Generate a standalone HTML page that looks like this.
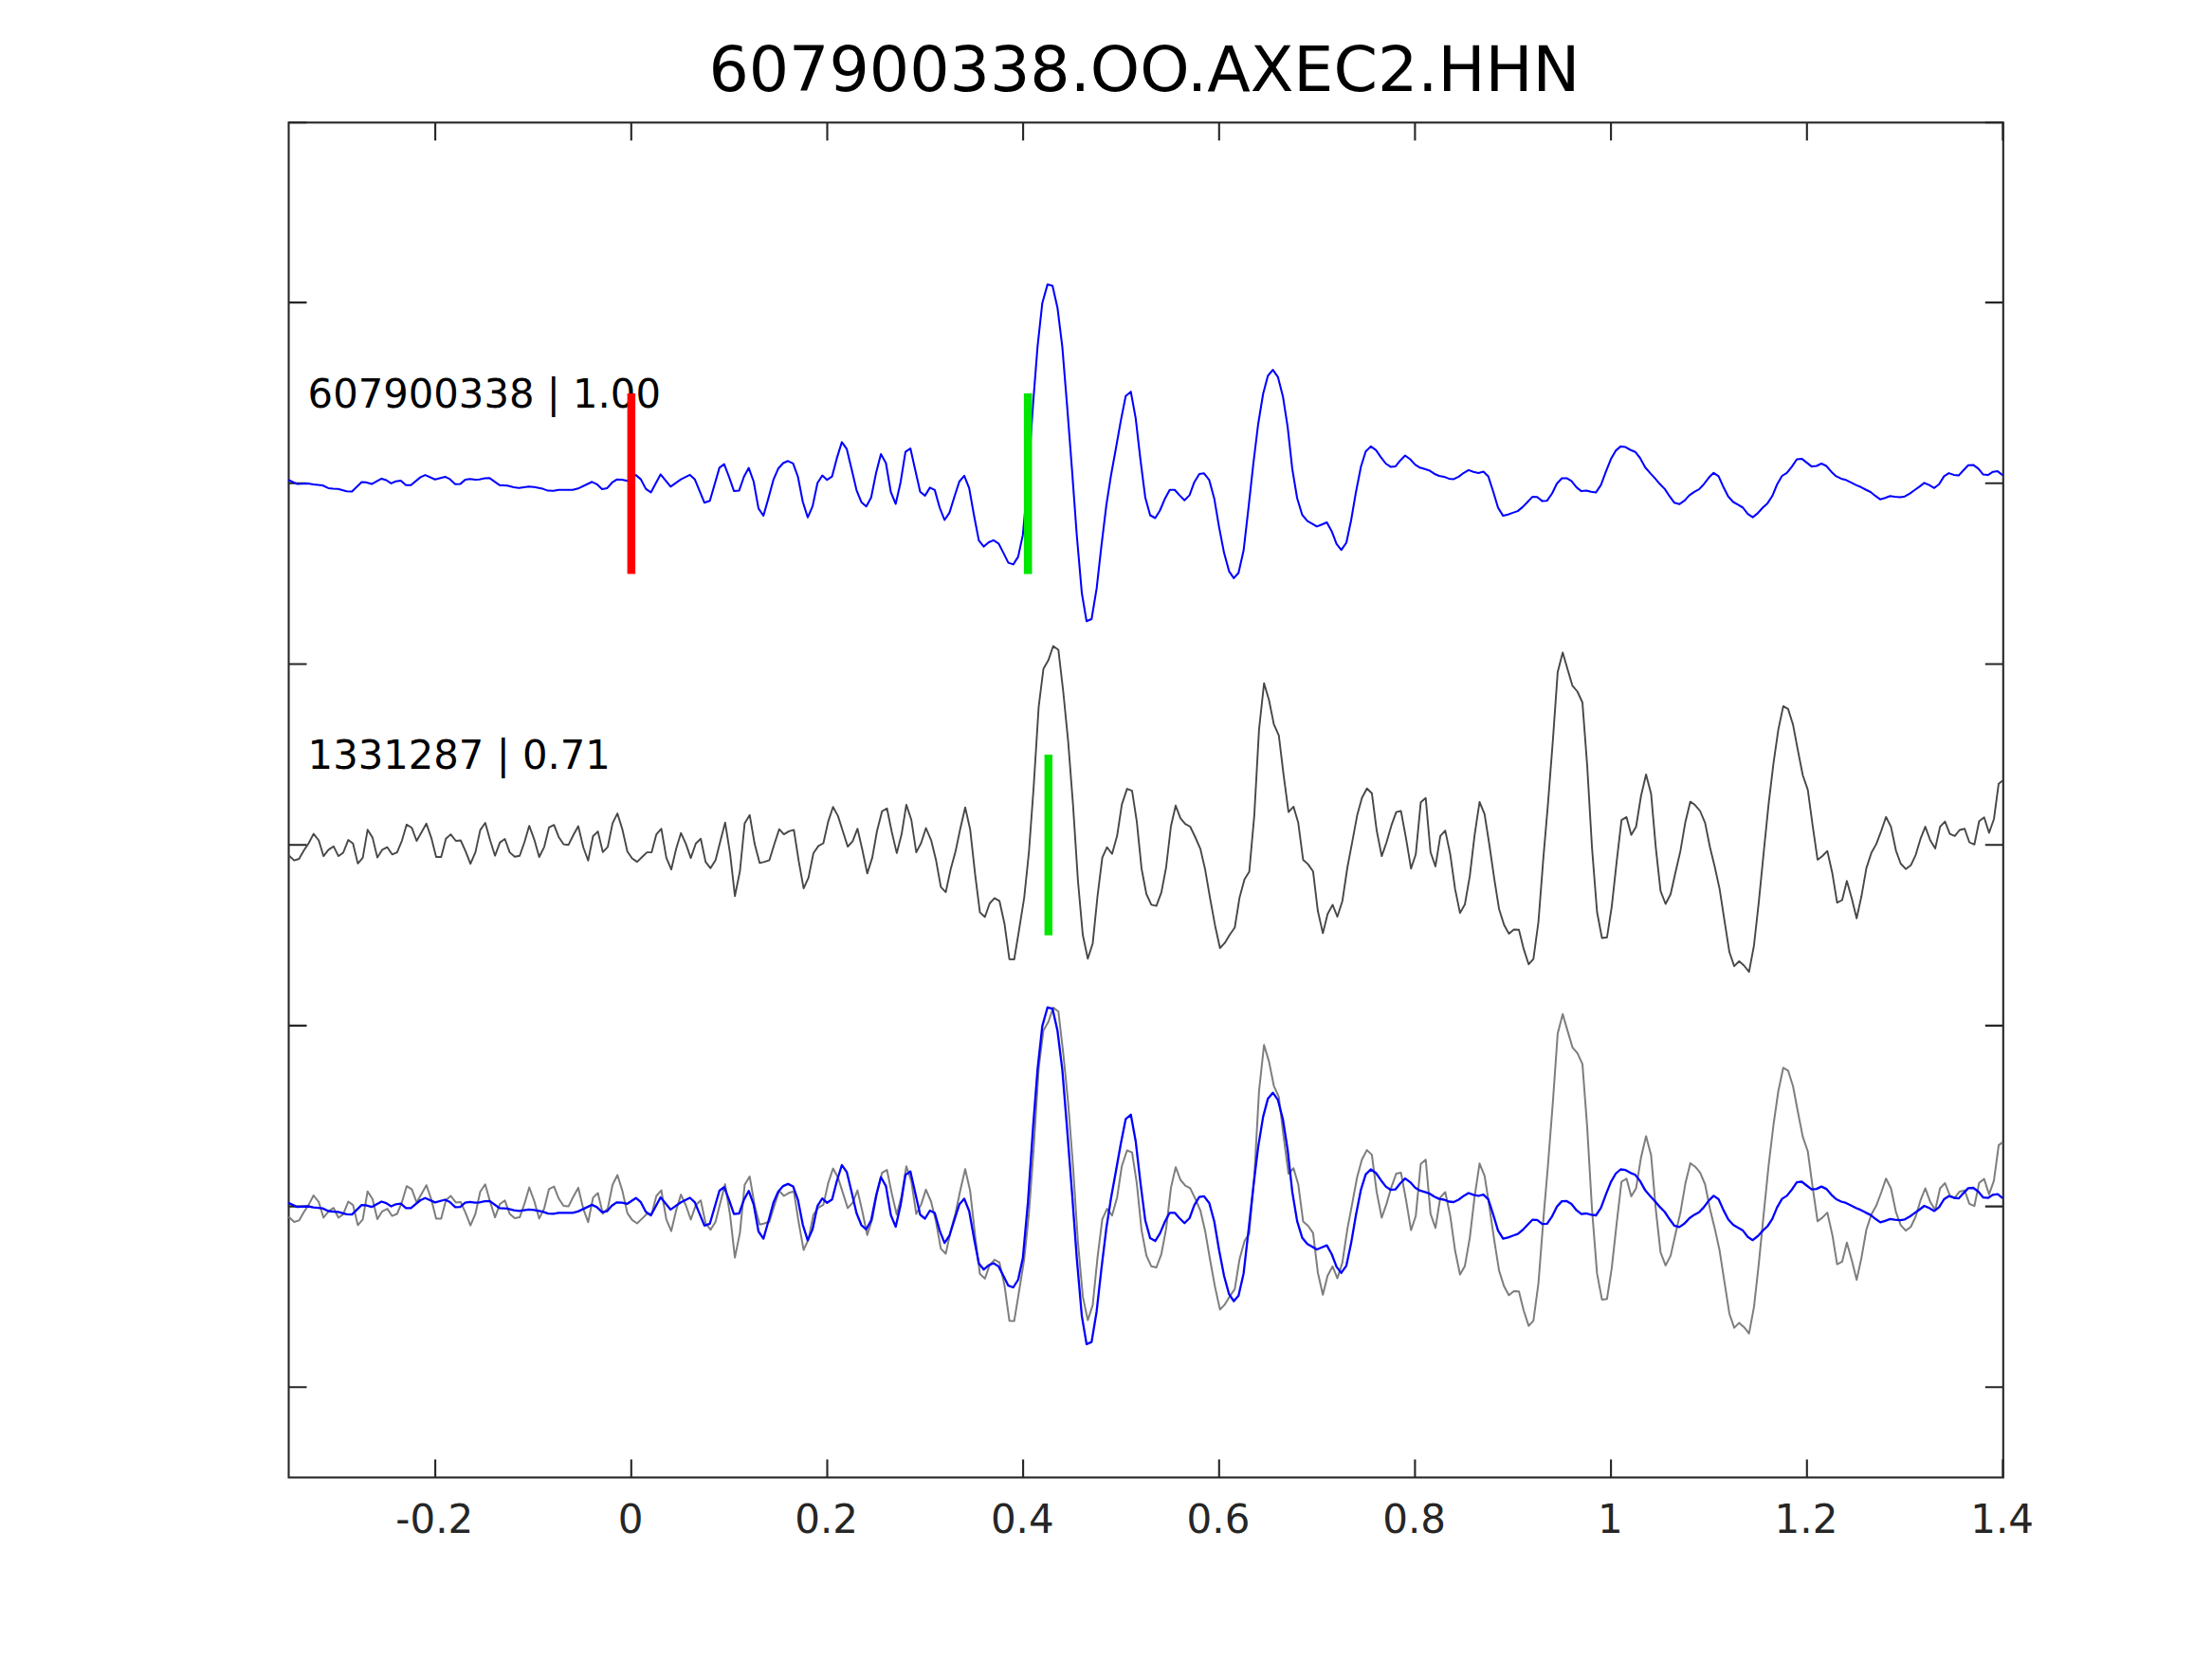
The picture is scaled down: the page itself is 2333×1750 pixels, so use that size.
<!DOCTYPE html>
<html><head><meta charset="utf-8"><title>607900338.OO.AXEC2.HHN</title>
<style>
html,body{margin:0;padding:0;background:#fff;}
svg{display:block;font-family:"DejaVu Sans","Liberation Sans",sans-serif;}
</style></head>
<body>
<svg width="2333" height="1750" viewBox="0 0 2333 1750">
<rect width="2333" height="1750" fill="#ffffff"/>
<rect x="304.5" y="129.3" width="1808.3000000000002" height="1429.2" fill="none" stroke="#262626" stroke-width="2.1"/>
<path d="M459.1,1558.5v-19M459.1,129.3v19M665.8,1558.5v-19M665.8,129.3v19M872.5,1558.5v-19M872.5,129.3v19M1079.1,1558.5v-19M1079.1,129.3v19M1285.8,1558.5v-19M1285.8,129.3v19M1492.4,1558.5v-19M1492.4,129.3v19M1699.1,1558.5v-19M1699.1,129.3v19M1905.8,1558.5v-19M1905.8,129.3v19M2112.4,1558.5v-19M2112.4,129.3v19M304.5,129.3h19M2112.8,129.3h-19M304.5,319.1h19M2112.8,319.1h-19M304.5,509.8h19M2112.8,509.8h-19M304.5,700.5h19M2112.8,700.5h-19M304.5,891.2h19M2112.8,891.2h-19M304.5,1081.9h19M2112.8,1081.9h-19M304.5,1272.6h19M2112.8,1272.6h-19M304.5,1463.3h19M2112.8,1463.3h-19" fill="none" stroke="#262626" stroke-width="2.1"/>
<polyline points="304.1,506.3 313.6,510.6 324.9,509.9 330.5,511.0 340.2,512.0 346.3,514.9 351.5,515.6 356.5,515.8 365.6,518.3 371.2,518.5 381.4,508.6 385.9,508.8 392.0,510.6 402.4,504.9 407.4,506.5 412.6,509.9 417.5,507.7 422.7,507.0 428.2,511.7 433.4,511.7 443.5,503.4 448.5,501.1 458.9,505.8 469.5,502.9 474.5,505.4 480.2,510.8 485.4,510.6 490.6,506.1 495.8,505.2 501.2,506.1 505.7,505.8 511.3,504.5 516.5,504.3 526.7,511.7 535.1,512.2 541.9,514.0 547.5,514.7 557.7,513.3 563.3,513.8 572.4,515.6 578.0,517.6 583.7,517.8 589.3,516.7 604.0,516.7 609.7,515.3 618.7,511.0 624.4,508.3 629.6,510.8 635.0,516.0 640.2,515.1 645.4,509.2 650.4,505.8 656.0,506.1 661.7,507.2 670.7,501.1 675.9,505.6 681.1,515.6 686.5,519.4 696.7,500.4 707.3,513.3 718.2,505.6 727.7,500.9 732.9,505.8 743.0,530.3 748.7,528.2 758.8,493.4 763.8,489.6 769.1,503.5 774.1,518.0 779.6,517.4 784.6,503.0 789.7,493.6 794.9,508.0 800.0,536.4 805.2,544.0 810.3,526.1 815.7,506.2 820.8,494.3 826.0,488.5 831.1,486.3 836.5,488.9 841.6,503.0 846.7,529.2 851.9,545.8 857.0,534.1 862.2,509.5 867.3,501.5 872.3,506.2 877.6,502.6 882.6,483.4 887.9,466.4 893.1,473.7 898.4,495.7 903.4,517.1 908.5,529.7 913.7,534.2 918.8,524.7 924.1,498.4 929.1,479.1 934.4,488.5 939.6,519.2 944.7,531.5 949.9,508.4 955.0,476.7 960.2,473.1 965.3,495.7 970.5,518.7 975.6,522.9 980.8,514.4 985.9,516.9 991.1,535.5 996.2,548.5 1001.4,540.9 1006.7,523.8 1011.8,508.0 1017.0,501.9 1022.2,514.9 1027.3,543.7 1032.4,570.1 1037.6,576.6 1042.9,572.0 1047.9,569.9 1053.2,573.3 1058.4,583.4 1063.5,593.6 1068.7,595.4 1073.8,587.4 1078.8,564.4 1084.2,505.3 1089.5,427.4 1094.3,365.6 1099.3,319.8 1104.8,300.1 1110.1,301.5 1115.3,324.4 1120.4,365.6 1125.6,429.7 1130.7,496.1 1135.7,564.8 1141.0,625.5 1146.0,655.3 1151.3,653.0 1156.6,620.9 1161.6,576.3 1166.9,532.7 1171.9,500.7 1176.9,473.2 1182.2,443.4 1187.3,417.8 1192.7,413.2 1197.8,441.1 1202.8,484.7 1207.9,524.7 1213.1,543.5 1218.4,546.5 1223.4,538.5 1228.7,525.9 1233.7,516.7 1239.0,516.7 1244.0,522.4 1249.3,527.7 1254.6,522.4 1259.6,508.7 1264.9,500.0 1269.9,499.3 1275.4,506.4 1280.7,525.9 1285.7,555.6 1291.0,583.1 1296.3,602.6 1301.3,609.9 1306.3,604.2 1311.6,580.8 1316.6,537.3 1321.9,489.2 1326.9,448.0 1332.2,415.5 1337.2,396.5 1342.5,390.1 1347.8,397.6 1353.1,418.2 1358.1,450.3 1363.0,494.8 1368.1,525.5 1373.5,543.2 1378.9,549.6 1383.8,552.3 1388.9,555.4 1394.3,553.2 1399.4,551.0 1404.6,560.4 1409.7,573.8 1414.7,580.1 1420.0,572.5 1425.0,549.0 1430.1,519.2 1435.4,492.2 1440.4,476.3 1445.8,470.9 1451.3,474.9 1456.3,482.1 1461.6,489.0 1466.6,492.4 1471.7,492.1 1476.9,485.7 1482.0,480.5 1487.4,484.5 1492.5,490.1 1497.7,493.3 1502.8,494.8 1507.3,496.2 1512.7,499.7 1517.8,502.0 1523.1,502.9 1528.1,504.9 1533.2,505.4 1538.4,502.9 1543.9,498.8 1548.9,495.9 1554.0,497.7 1559.4,498.9 1564.6,497.5 1569.7,502.5 1574.8,518.3 1580.0,535.5 1585.3,544.1 1590.5,542.7 1595.6,540.9 1600.8,539.1 1605.9,534.9 1610.9,529.7 1616.2,524.1 1621.2,524.2 1626.7,528.6 1631.7,528.2 1637.0,520.5 1642.0,510.3 1647.3,504.5 1652.4,504.4 1657.4,507.4 1662.8,514.1 1667.9,518.1 1673.1,517.4 1678.2,518.8 1683.3,519.4 1688.5,511.6 1693.6,497.8 1699.0,484.3 1704.1,475.4 1709.3,470.9 1714.4,471.6 1719.4,474.5 1724.7,476.7 1729.7,483.0 1735.2,493.0 1740.3,498.9 1745.4,504.4 1750.4,510.3 1755.9,515.9 1760.7,523.2 1765.8,530.2 1771.2,531.8 1776.5,528.2 1781.9,522.4 1787.0,518.8 1792.0,516.1 1796.9,511.0 1802.3,503.8 1807.4,498.8 1812.6,502.4 1817.7,513.8 1822.8,523.7 1828.0,529.5 1833.1,532.4 1838.3,535.5 1843.4,542.2 1848.6,545.6 1853.9,541.4 1858.9,535.8 1864.2,530.9 1869.2,523.3 1874.3,511.0 1879.5,502.0 1884.6,498.8 1890.0,492.1 1895.1,484.5 1900.3,483.9 1905.4,487.9 1910.8,492.1 1915.9,491.5 1921.1,489.0 1926.2,491.5 1931.6,497.7 1936.7,502.4 1941.9,504.9 1947.0,506.3 1952.1,508.9 1957.5,511.6 1962.7,513.8 1967.8,516.5 1972.9,519.0 1978.1,523.2 1983.2,526.8 1988.2,525.2 1993.5,523.3 1998.5,524.1 2004.0,524.6 2009.0,523.7 2014.3,520.6 2019.3,517.0 2024.4,513.4 2029.6,509.4 2034.7,511.6 2040.1,514.8 2045.2,510.7 2050.4,502.4 2055.5,499.1 2060.6,500.9 2065.8,501.6 2070.9,496.0 2075.9,490.8 2081.2,490.4 2086.6,494.4 2091.7,500.6 2096.7,501.1 2102.0,497.7 2107.0,497.1 2112.1,501.3" fill="none" stroke="#0000ff" stroke-width="2.05" stroke-linejoin="round"/>
<polyline points="304.5,902.2 310.3,907.6 315.4,906.0 320.4,897.3 325.7,889.2 330.7,879.6 336.2,886.5 341.2,903.1 346.5,896.4 351.9,892.8 357.0,903.1 362.0,899.5 367.3,886.1 372.3,889.7 377.4,910.9 382.6,904.9 387.7,875.3 392.9,883.4 398.0,904.6 403.1,896.4 408.5,893.7 413.6,901.3 418.8,899.1 423.9,886.8 428.9,869.8 434.4,873.3 439.4,887.0 444.7,877.8 449.7,868.8 455.0,884.1 460.0,904.0 465.3,904.0 470.3,884.7 475.4,880.1 480.8,887.0 485.9,886.5 491.1,898.2 496.2,911.2 501.4,899.1 506.5,875.6 511.8,868.0 517.0,886.5 522.1,902.7 527.3,888.6 532.5,885.0 537.6,899.1 542.9,903.7 548.1,902.7 553.2,888.3 558.2,871.1 563.5,885.6 568.7,904.0 574.0,893.3 579.0,872.9 584.3,870.2 589.3,882.9 594.4,890.6 599.6,891.2 604.9,880.5 609.9,871.5 615.2,893.7 620.3,907.8 625.5,882.0 630.6,877.1 635.8,898.8 641.0,893.3 646.1,868.4 651.2,858.1 656.4,874.7 661.7,898.2 666.7,905.5 672.0,909.1 677.0,904.2 682.3,899.1 687.3,899.1 692.3,880.1 697.5,874.2 702.8,904.9 708.0,917.2 713.1,895.5 718.2,878.7 723.4,890.1 728.6,905.1 733.9,889.7 739.1,884.8 744.2,909.1 749.4,915.8 754.7,907.3 759.7,887.4 764.8,867.7 770.1,900.9 775.1,945.2 780.4,919.0 785.4,868.4 790.7,859.7 795.9,890.1 801.2,910.3 806.2,909.1 811.5,907.3 816.5,891.0 821.8,874.7 826.8,880.1 832.1,876.9 837.3,875.4 842.4,908.2 847.6,937.1 852.7,925.9 857.9,900.0 863.2,892.4 868.4,889.5 873.5,866.6 878.6,851.2 883.8,860.6 888.9,876.7 894.1,893.0 899.3,887.4 904.4,874.2 909.7,897.3 914.7,921.4 920.0,904.6 925.0,876.5 930.3,855.7 935.5,852.7 940.6,877.8 945.8,899.9 950.9,880.1 955.9,848.9 961.2,864.8 966.4,899.1 971.5,889.2 976.6,873.5 982.0,886.1 987.1,906.7 992.3,935.7 997.5,941.1 1002.6,917.2 1007.7,898.6 1012.9,873.8 1018.0,851.8 1023.2,874.7 1028.5,922.6 1033.5,962.4 1038.8,967.3 1043.8,953.0 1048.9,947.4 1054.1,950.3 1059.4,974.2 1064.6,1011.8 1069.7,1012.0 1074.9,980.3 1080.2,947.1 1085.2,899.0 1090.2,830.3 1095.5,745.6 1100.5,705.5 1105.8,696.3 1110.8,681.5 1116.3,685.6 1121.4,729.5 1126.6,782.2 1131.7,848.6 1136.9,928.8 1142.0,986.0 1147.3,1011.2 1152.5,995.2 1157.6,944.8 1162.6,904.7 1167.6,893.7 1172.9,900.8 1178.2,881.8 1183.2,848.6 1188.7,832.1 1194.0,834.2 1199.0,866.9 1204.0,916.2 1209.1,943.0 1214.3,954.4 1219.6,955.6 1224.9,941.4 1229.9,915.0 1235.0,871.5 1240.0,849.8 1245.0,863.1 1250.1,869.2 1255.3,872.0 1260.6,883.0 1266.1,895.6 1271.1,917.3 1276.2,947.1 1281.4,975.7 1286.7,1000.0 1291.8,994.7 1297.0,986.0 1302.3,978.5 1307.3,947.1 1312.6,927.6 1317.6,919.6 1322.9,860.1 1327.9,769.6 1333.2,720.8 1338.5,738.7 1343.5,763.9 1348.8,775.8 1353.7,816.6 1359.0,856.6 1364.3,850.9 1369.3,868.1 1374.4,907.0 1379.6,911.6 1384.9,919.2 1389.9,960.8 1395.2,984.4 1400.2,964.3 1405.5,954.4 1410.5,967.0 1415.8,950.5 1421.1,915.0 1426.3,887.6 1431.4,860.1 1436.4,841.8 1441.7,831.7 1446.9,836.7 1452.0,876.1 1457.3,903.1 1462.3,888.7 1467.6,870.4 1472.6,856.6 1477.6,855.5 1482.9,884.1 1488.2,916.2 1493.2,901.3 1498.5,846.3 1503.7,841.8 1508.8,899.0 1514.0,913.9 1519.1,881.8 1524.3,876.1 1529.6,901.3 1534.7,937.9 1539.9,963.1 1545.0,954.0 1550.2,924.2 1555.3,880.7 1560.5,845.9 1565.8,858.9 1570.8,891.0 1576.1,927.6 1581.1,959.0 1586.4,975.7 1591.4,984.9 1596.7,980.5 1602.0,980.8 1607.0,1000.9 1612.3,1017.2 1617.3,1011.7 1622.6,972.3 1627.9,903.6 1632.6,848.6 1637.9,779.9 1642.9,708.9 1648.2,688.3 1653.4,706.2 1658.5,723.4 1663.7,729.5 1669.0,741.0 1674.0,807.4 1679.1,894.4 1684.4,962.0 1689.6,989.5 1694.9,988.8 1699.9,956.3 1705.2,908.2 1710.2,865.1 1715.5,861.9 1720.5,880.7 1725.6,872.0 1730.8,839.5 1736.1,817.0 1741.4,837.2 1746.4,894.4 1751.4,939.8 1756.7,953.5 1762.0,943.2 1767.0,920.8 1772.3,897.9 1777.6,866.9 1782.8,845.6 1787.9,849.3 1793.1,855.5 1798.4,868.1 1803.4,893.3 1808.7,915.0 1813.7,937.9 1819.0,972.3 1824.0,1004.3 1829.1,1019.2 1834.3,1014.0 1839.4,1018.5 1844.7,1025.2 1849.9,997.5 1855.0,951.7 1860.2,899.0 1865.3,848.6 1870.5,805.1 1875.6,769.6 1880.8,744.9 1885.9,747.9 1891.1,764.4 1896.2,791.4 1901.4,817.7 1906.7,833.1 1911.8,870.9 1917.0,906.9 1922.1,903.0 1927.3,897.7 1932.6,921.3 1937.6,952.2 1942.9,949.5 1947.9,929.3 1953.0,947.6 1958.2,968.7 1963.3,945.3 1968.5,915.6 1973.8,899.5 1978.9,890.4 1984.1,876.6 1989.2,861.8 1994.4,872.1 1999.7,897.3 2004.7,911.0 2010.0,916.7 2015.3,912.8 2020.5,901.8 2025.6,884.7 2030.6,872.1 2035.9,886.5 2041.1,895.0 2046.2,872.1 2051.4,866.6 2056.5,879.6 2061.8,881.9 2066.8,875.5 2072.1,874.3 2077.1,888.5 2082.4,890.8 2087.4,866.3 2092.7,862.2 2097.9,878.5 2103.0,864.0 2108.0,826.7 2112.1,823.5" fill="none" stroke="#474747" stroke-width="1.9" stroke-linejoin="round"/>
<polyline points="304.5,1283.6 310.3,1289.0 315.4,1287.4 320.4,1278.7 325.7,1270.6 330.7,1261.0 336.2,1267.9 341.2,1284.5 346.5,1277.8 351.9,1274.2 357.0,1284.5 362.0,1280.9 367.3,1267.5 372.3,1271.1 377.4,1292.3 382.6,1286.3 387.7,1256.7 392.9,1264.8 398.0,1286.0 403.1,1277.8 408.5,1275.1 413.6,1282.7 418.8,1280.5 423.9,1268.2 428.9,1251.2 434.4,1254.7 439.4,1268.4 444.7,1259.2 449.7,1250.2 455.0,1265.5 460.0,1285.4 465.3,1285.4 470.3,1266.1 475.4,1261.5 480.8,1268.4 485.9,1267.9 491.1,1279.6 496.2,1292.6 501.4,1280.5 506.5,1257.0 511.8,1249.4 517.0,1267.9 522.1,1284.1 527.3,1270.0 532.5,1266.4 537.6,1280.5 542.9,1285.1 548.1,1284.1 553.2,1269.7 558.2,1252.5 563.5,1267.0 568.7,1285.4 574.0,1274.7 579.0,1254.3 584.3,1251.6 589.3,1264.3 594.4,1272.0 599.6,1272.6 604.9,1261.9 609.9,1252.9 615.2,1275.1 620.3,1289.2 625.5,1263.4 630.6,1258.5 635.8,1280.2 641.0,1274.7 646.1,1249.8 651.2,1239.5 656.4,1256.1 661.7,1279.6 666.7,1286.9 672.0,1290.5 677.0,1285.6 682.3,1280.5 687.3,1280.5 692.3,1261.5 697.5,1255.6 702.8,1286.3 708.0,1298.6 713.1,1276.9 718.2,1260.1 723.4,1271.5 728.6,1286.5 733.9,1271.1 739.1,1266.2 744.2,1290.5 749.4,1297.2 754.7,1288.7 759.7,1268.8 764.8,1249.1 770.1,1282.3 775.1,1326.6 780.4,1300.4 785.4,1249.8 790.7,1241.1 795.9,1271.5 801.2,1291.7 806.2,1290.5 811.5,1288.7 816.5,1272.4 821.8,1256.1 826.8,1261.5 832.1,1258.3 837.3,1256.8 842.4,1289.6 847.6,1318.5 852.7,1307.3 857.9,1281.4 863.2,1273.8 868.4,1270.9 873.5,1248.0 878.6,1232.6 883.8,1242.0 888.9,1258.1 894.1,1274.4 899.3,1268.8 904.4,1255.6 909.7,1278.7 914.7,1302.8 920.0,1286.0 925.0,1257.9 930.3,1237.1 935.5,1234.1 940.6,1259.2 945.8,1281.3 950.9,1261.5 955.9,1230.3 961.2,1246.2 966.4,1280.5 971.5,1270.6 976.6,1254.9 982.0,1267.5 987.1,1288.1 992.3,1317.1 997.5,1322.5 1002.6,1298.6 1007.7,1280.0 1012.9,1255.2 1018.0,1233.2 1023.2,1256.1 1028.5,1304.0 1033.5,1343.8 1038.8,1348.7 1043.8,1334.4 1048.9,1328.8 1054.1,1331.7 1059.4,1355.6 1064.6,1393.2 1069.7,1393.4 1074.9,1361.7 1080.2,1328.5 1085.2,1280.4 1090.2,1211.7 1095.5,1127.0 1100.5,1086.9 1105.8,1077.7 1110.8,1062.9 1116.3,1067.0 1121.4,1110.9 1126.6,1163.6 1131.7,1230.0 1136.9,1310.2 1142.0,1367.4 1147.3,1392.6 1152.5,1376.6 1157.6,1326.2 1162.6,1286.1 1167.6,1275.1 1172.9,1282.2 1178.2,1263.2 1183.2,1230.0 1188.7,1213.5 1194.0,1215.6 1199.0,1248.3 1204.0,1297.6 1209.1,1324.4 1214.3,1335.8 1219.6,1337.0 1224.9,1322.8 1229.9,1296.4 1235.0,1252.9 1240.0,1231.2 1245.0,1244.5 1250.1,1250.6 1255.3,1253.4 1260.6,1264.4 1266.1,1277.0 1271.1,1298.7 1276.2,1328.5 1281.4,1357.1 1286.7,1381.4 1291.8,1376.1 1297.0,1367.4 1302.3,1359.9 1307.3,1328.5 1312.6,1309.0 1317.6,1301.0 1322.9,1241.5 1327.9,1151.0 1333.2,1102.2 1338.5,1120.1 1343.5,1145.3 1348.8,1157.2 1353.7,1198.0 1359.0,1238.0 1364.3,1232.3 1369.3,1249.5 1374.4,1288.4 1379.6,1293.0 1384.9,1300.6 1389.9,1342.2 1395.2,1365.8 1400.2,1345.7 1405.5,1335.8 1410.5,1348.4 1415.8,1331.9 1421.1,1296.4 1426.3,1269.0 1431.4,1241.5 1436.4,1223.2 1441.7,1213.1 1446.9,1218.1 1452.0,1257.5 1457.3,1284.5 1462.3,1270.1 1467.6,1251.8 1472.6,1238.0 1477.6,1236.9 1482.9,1265.5 1488.2,1297.6 1493.2,1282.7 1498.5,1227.7 1503.7,1223.2 1508.8,1280.4 1514.0,1295.3 1519.1,1263.2 1524.3,1257.5 1529.6,1282.7 1534.7,1319.3 1539.9,1344.5 1545.0,1335.4 1550.2,1305.6 1555.3,1262.1 1560.5,1227.3 1565.8,1240.3 1570.8,1272.4 1576.1,1309.0 1581.1,1340.4 1586.4,1357.1 1591.4,1366.3 1596.7,1361.9 1602.0,1362.2 1607.0,1382.3 1612.3,1398.6 1617.3,1393.1 1622.6,1353.7 1627.9,1285.0 1632.6,1230.0 1637.9,1161.3 1642.9,1090.3 1648.2,1069.7 1653.4,1087.6 1658.5,1104.8 1663.7,1110.9 1669.0,1122.4 1674.0,1188.8 1679.1,1275.8 1684.4,1343.4 1689.6,1370.9 1694.9,1370.2 1699.9,1337.7 1705.2,1289.6 1710.2,1246.5 1715.5,1243.3 1720.5,1262.1 1725.6,1253.4 1730.8,1220.9 1736.1,1198.4 1741.4,1218.6 1746.4,1275.8 1751.4,1321.2 1756.7,1334.9 1762.0,1324.6 1767.0,1302.2 1772.3,1279.3 1777.6,1248.3 1782.8,1227.0 1787.9,1230.7 1793.1,1236.9 1798.4,1249.5 1803.4,1274.7 1808.7,1296.4 1813.7,1319.3 1819.0,1353.7 1824.0,1385.7 1829.1,1400.6 1834.3,1395.4 1839.4,1399.9 1844.7,1406.6 1849.9,1378.9 1855.0,1333.1 1860.2,1280.4 1865.3,1230.0 1870.5,1186.5 1875.6,1151.0 1880.8,1126.3 1885.9,1129.3 1891.1,1145.8 1896.2,1172.8 1901.4,1199.1 1906.7,1214.5 1911.8,1252.3 1917.0,1288.3 1922.1,1284.4 1927.3,1279.1 1932.6,1302.7 1937.6,1333.6 1942.9,1330.9 1947.9,1310.7 1953.0,1329.0 1958.2,1350.1 1963.3,1326.7 1968.5,1297.0 1973.8,1280.9 1978.9,1271.8 1984.1,1258.0 1989.2,1243.2 1994.4,1253.5 1999.7,1278.7 2004.7,1292.4 2010.0,1298.1 2015.3,1294.2 2020.5,1283.2 2025.6,1266.1 2030.6,1253.5 2035.9,1267.9 2041.1,1276.4 2046.2,1253.5 2051.4,1248.0 2056.5,1261.0 2061.8,1263.3 2066.8,1256.9 2072.1,1255.7 2077.1,1269.9 2082.4,1272.2 2087.4,1247.7 2092.7,1243.6 2097.9,1259.9 2103.0,1245.4 2108.0,1208.1 2112.1,1204.9" fill="none" stroke="#7e7e7e" stroke-width="2.0" stroke-linejoin="round"/>
<polyline points="304.1,1268.9 313.6,1273.2 324.9,1272.5 330.5,1273.6 340.2,1274.6 346.3,1277.5 351.5,1278.2 356.5,1278.4 365.6,1280.9 371.2,1281.1 381.4,1271.2 385.9,1271.4 392.0,1273.2 402.4,1267.5 407.4,1269.1 412.6,1272.5 417.5,1270.3 422.7,1269.6 428.2,1274.3 433.4,1274.3 443.5,1266.0 448.5,1263.7 458.9,1268.4 469.5,1265.5 474.5,1268.0 480.2,1273.4 485.4,1273.2 490.6,1268.7 495.8,1267.8 501.2,1268.7 505.7,1268.4 511.3,1267.1 516.5,1266.9 526.7,1274.3 535.1,1274.8 541.9,1276.6 547.5,1277.3 557.7,1275.9 563.3,1276.4 572.4,1278.2 578.0,1280.2 583.7,1280.4 589.3,1279.3 604.0,1279.3 609.7,1277.9 618.7,1273.6 624.4,1270.9 629.6,1273.4 635.0,1278.6 640.2,1277.7 645.4,1271.8 650.4,1268.4 656.0,1268.7 661.7,1269.8 670.7,1263.7 675.9,1268.2 681.1,1278.2 686.5,1282.0 696.7,1263.0 707.3,1275.9 718.2,1268.2 727.7,1263.5 732.9,1268.4 743.0,1292.9 748.7,1290.8 758.8,1256.0 763.8,1252.2 769.1,1266.1 774.1,1280.6 779.6,1280.0 784.6,1265.6 789.7,1256.2 794.9,1270.6 800.0,1299.0 805.2,1306.6 810.3,1288.7 815.7,1268.8 820.8,1256.9 826.0,1251.1 831.1,1248.9 836.5,1251.5 841.6,1265.6 846.7,1291.8 851.9,1308.4 857.0,1296.7 862.2,1272.1 867.3,1264.1 872.3,1268.8 877.6,1265.2 882.6,1246.0 887.9,1229.0 893.1,1236.3 898.4,1258.3 903.4,1279.7 908.5,1292.3 913.7,1296.8 918.8,1287.3 924.1,1261.0 929.1,1241.7 934.4,1251.1 939.6,1281.8 944.7,1294.1 949.9,1271.0 955.0,1239.3 960.2,1235.7 965.3,1258.3 970.5,1281.3 975.6,1285.5 980.8,1277.0 985.9,1279.5 991.1,1298.1 996.2,1311.1 1001.4,1303.5 1006.7,1286.4 1011.8,1270.6 1017.0,1264.5 1022.2,1277.5 1027.3,1306.3 1032.4,1332.7 1037.6,1339.2 1042.9,1334.6 1047.9,1332.5 1053.2,1335.9 1058.4,1346.0 1063.5,1356.2 1068.7,1358.0 1073.8,1350.0 1078.8,1327.0 1084.2,1267.9 1089.5,1190.0 1094.3,1128.2 1099.3,1082.4 1104.8,1062.7 1110.1,1064.1 1115.3,1087.0 1120.4,1128.2 1125.6,1192.3 1130.7,1258.7 1135.7,1327.4 1141.0,1388.1 1146.0,1417.9 1151.3,1415.6 1156.6,1383.5 1161.6,1338.9 1166.9,1295.3 1171.9,1263.3 1176.9,1235.8 1182.2,1206.0 1187.3,1180.4 1192.7,1175.8 1197.8,1203.7 1202.8,1247.3 1207.9,1287.3 1213.1,1306.1 1218.4,1309.1 1223.4,1301.1 1228.7,1288.5 1233.7,1279.3 1239.0,1279.3 1244.0,1285.0 1249.3,1290.3 1254.6,1285.0 1259.6,1271.3 1264.9,1262.6 1269.9,1261.9 1275.4,1269.0 1280.7,1288.5 1285.7,1318.2 1291.0,1345.7 1296.3,1365.2 1301.3,1372.5 1306.3,1366.8 1311.6,1343.4 1316.6,1299.9 1321.9,1251.8 1326.9,1210.6 1332.2,1178.1 1337.2,1159.1 1342.5,1152.7 1347.8,1160.2 1353.1,1180.8 1358.1,1212.9 1363.0,1257.4 1368.1,1288.1 1373.5,1305.8 1378.9,1312.2 1383.8,1314.9 1388.9,1318.0 1394.3,1315.8 1399.4,1313.6 1404.6,1323.0 1409.7,1336.4 1414.7,1342.7 1420.0,1335.1 1425.0,1311.6 1430.1,1281.8 1435.4,1254.8 1440.4,1238.9 1445.8,1233.5 1451.3,1237.5 1456.3,1244.7 1461.6,1251.6 1466.6,1255.0 1471.7,1254.7 1476.9,1248.3 1482.0,1243.1 1487.4,1247.1 1492.5,1252.7 1497.7,1255.9 1502.8,1257.4 1507.3,1258.8 1512.7,1262.3 1517.8,1264.6 1523.1,1265.5 1528.1,1267.5 1533.2,1268.0 1538.4,1265.5 1543.9,1261.4 1548.9,1258.5 1554.0,1260.3 1559.4,1261.5 1564.6,1260.1 1569.7,1265.1 1574.8,1280.9 1580.0,1298.1 1585.3,1306.7 1590.5,1305.3 1595.6,1303.5 1600.8,1301.7 1605.9,1297.5 1610.9,1292.3 1616.2,1286.7 1621.2,1286.8 1626.7,1291.2 1631.7,1290.8 1637.0,1283.1 1642.0,1272.9 1647.3,1267.1 1652.4,1267.0 1657.4,1270.0 1662.8,1276.7 1667.9,1280.7 1673.1,1280.0 1678.2,1281.4 1683.3,1282.0 1688.5,1274.2 1693.6,1260.4 1699.0,1246.9 1704.1,1238.0 1709.3,1233.5 1714.4,1234.2 1719.4,1237.1 1724.7,1239.3 1729.7,1245.6 1735.2,1255.6 1740.3,1261.5 1745.4,1267.0 1750.4,1272.9 1755.9,1278.5 1760.7,1285.8 1765.8,1292.8 1771.2,1294.4 1776.5,1290.8 1781.9,1285.0 1787.0,1281.4 1792.0,1278.7 1796.9,1273.6 1802.3,1266.4 1807.4,1261.4 1812.6,1265.0 1817.7,1276.4 1822.8,1286.3 1828.0,1292.1 1833.1,1295.0 1838.3,1298.1 1843.4,1304.8 1848.6,1308.2 1853.9,1304.0 1858.9,1298.4 1864.2,1293.5 1869.2,1285.9 1874.3,1273.6 1879.5,1264.6 1884.6,1261.4 1890.0,1254.7 1895.1,1247.1 1900.3,1246.5 1905.4,1250.5 1910.8,1254.7 1915.9,1254.1 1921.1,1251.6 1926.2,1254.1 1931.6,1260.3 1936.7,1265.0 1941.9,1267.5 1947.0,1268.9 1952.1,1271.5 1957.5,1274.2 1962.7,1276.4 1967.8,1279.1 1972.9,1281.6 1978.1,1285.8 1983.2,1289.4 1988.2,1287.8 1993.5,1285.9 1998.5,1286.7 2004.0,1287.2 2009.0,1286.3 2014.3,1283.2 2019.3,1279.6 2024.4,1276.0 2029.6,1272.0 2034.7,1274.2 2040.1,1277.4 2045.2,1273.3 2050.4,1265.0 2055.5,1261.7 2060.6,1263.5 2065.8,1264.2 2070.9,1258.6 2075.9,1253.4 2081.2,1253.0 2086.6,1257.0 2091.7,1263.2 2096.7,1263.7 2102.0,1260.3 2107.0,1259.7 2112.1,1263.9" fill="none" stroke="#0000ff" stroke-width="2.3" stroke-linejoin="round"/>
<text transform="translate(324.6,429.9) scale(0.9795,1)" font-size="42.6" fill="#000">607900338 | 1.00</text>
<text transform="translate(324.6,810.6) scale(0.9795,1)" font-size="42.6" fill="#000">1331287 | 0.71</text>
<rect x="661.6" y="415" width="8.5" height="190.4" fill="#ff0000"/>
<rect x="1079.9" y="414.9" width="8.6" height="190.6" fill="#00e600"/>
<rect x="1101.6" y="796" width="8.4" height="190.6" fill="#00e600"/>
<text x="458.3" y="1617" text-anchor="middle" font-size="42" fill="#262626">-0.2</text>
<text x="665.0" y="1617" text-anchor="middle" font-size="42" fill="#262626">0</text>
<text x="871.7" y="1617" text-anchor="middle" font-size="42" fill="#262626">0.2</text>
<text x="1078.3" y="1617" text-anchor="middle" font-size="42" fill="#262626">0.4</text>
<text x="1285.0" y="1617" text-anchor="middle" font-size="42" fill="#262626">0.6</text>
<text x="1491.6" y="1617" text-anchor="middle" font-size="42" fill="#262626">0.8</text>
<text x="1698.3" y="1617" text-anchor="middle" font-size="42" fill="#262626">1</text>
<text x="1905.0" y="1617" text-anchor="middle" font-size="42" fill="#262626">1.2</text>
<text x="2111.6" y="1617" text-anchor="middle" font-size="42" fill="#262626">1.4</text>
<text x="1206.9" y="96" text-anchor="middle" font-size="66.6" fill="#000">607900338.OO.AXEC2.HHN</text>
</svg>
</body></html>
